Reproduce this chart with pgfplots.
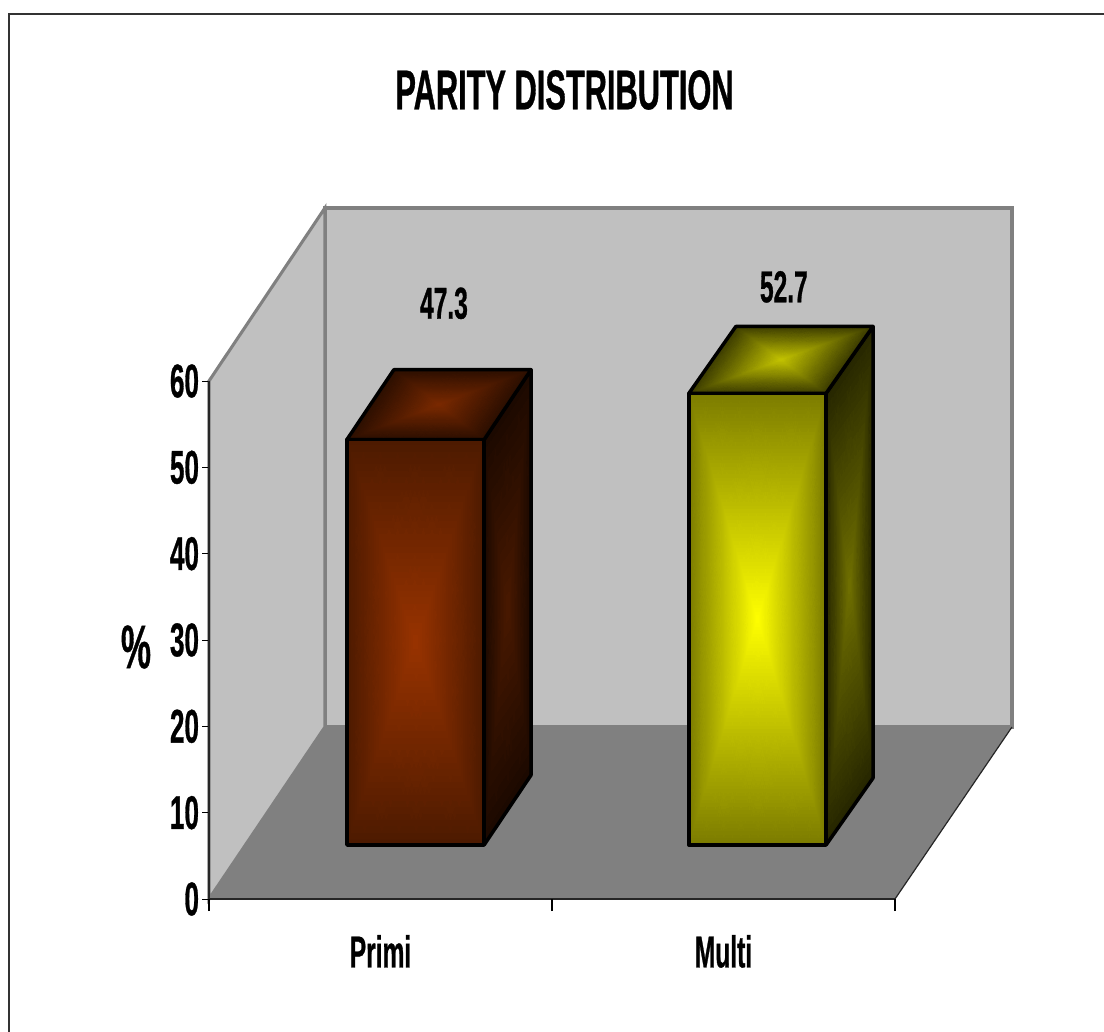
\documentclass[border=0pt]{standalone}
\usepackage{pgfplots}
\pgfplotsset{compat=1.18}
\usepackage{fontspec}
\setmainfont{Liberation Sans}[FakeStretch=0.55,BoldFeatures={FakeBold=0.6}]

% Face colours: E at the edges, C at the centre of each face
\definecolor{wall}{HTML}{C0C0C0}
\definecolor{floorgrey}{HTML}{808080}
\definecolor{primifrontE}{HTML}{4D1A00}
\definecolor{primifrontC}{HTML}{993300}
\definecolor{primisideE}{HTML}{1C0900}
\definecolor{primisideC}{HTML}{4A1900}
\definecolor{primitopE}{HTML}{2B0E00}
\definecolor{primitopC}{HTML}{7A2900}
\definecolor{multifrontE}{HTML}{7C7C00}
\definecolor{multifrontC}{HTML}{FFFF00}
\definecolor{multisideE}{HTML}{262600}
\definecolor{multisideC}{HTML}{707000}
\definecolor{multitopE}{HTML}{3A3A00}
\definecolor{multitopC}{HTML}{C2C200}

% One face of a box: four triangles meeting at the face centre
\def\shadedface(#1,#2)(#3,#4)(#5,#6)(#7,#8)#9;{%
  \pgfmathsetmacro\cx{(#1+#3+#5+#7)/4}%
  \pgfmathsetmacro\cy{(#2+#4+#6+#8)/4}%
  \addplot[patch,shader=interp,mesh/color input=explicit] coordinates {
    (#1,#2)[color=#9E] (#3,#4)[color=#9E] (\cx,\cy)[color=#9C]
    (#3,#4)[color=#9E] (#5,#6)[color=#9E] (\cx,\cy)[color=#9C]
    (#5,#6)[color=#9E] (#7,#8)[color=#9E] (\cx,\cy)[color=#9C]
    (#7,#8)[color=#9E] (#1,#2)[color=#9E] (\cx,\cy)[color=#9C]
  };
  \addplot[black,line width=2.6pt,line join=round] coordinates {(#1,#2) (#3,#4) (#5,#6) (#7,#8)} -- cycle;
}

% A box standing on the floor: left edge, value, depth rise, colour prefix.
% The boxes stand part way into the depth, so their scale is a little shorter than the front axis.
\newcommand{\databox}[4]{%
  \pgfmathsetmacro\xa{#1}%
  \pgfmathsetmacro\xb{#1+0.40}%
  \pgfmathsetmacro\xc{\xa+0.137}%
  \pgfmathsetmacro\xd{\xb+0.137}%
  \pgfmathsetmacro\ya{6.255}%
  \pgfmathsetmacro\yb{6.255+0.9927*#2}%
  \pgfmathsetmacro\yc{\ya+#3}%
  \pgfmathsetmacro\yd{\yb+#3}%
  \shadedface(\xb,\ya)(\xd,\yc)(\xd,\yd)(\xb,\yb)#4side;
  \shadedface(\xa,\yb)(\xb,\yb)(\xd,\yd)(\xc,\yd)#4top;
  \shadedface(\xa,\ya)(\xb,\ya)(\xb,\yb)(\xa,\yb)#4front;
}

\begin{document}
\begin{tikzpicture}[x=0.75pt,y=0.75pt]
\path[use as bounding box] (-209,-133) rectangle (895,899);
\fill[white] (-209,-133) rectangle (895,899);
% Chart area border
\draw[line width=0.9pt,black!80] (-200,-133) -- (-200,885) -- (895,885);
\begin{axis}[
  at={(0,0)},anchor=south west,
  scale only axis,width=514.5pt,height=388.5pt,
  xmin=0,xmax=2,ymin=0,ymax=60,
  clip=false,axis on top=true,
  axis x line=bottom,axis y line=left,
  axis line style={-,black!85,line width=0.9pt},
  tick align=outside,
  xtick={0.5,1.5},xticklabels={Primi,Multi},
  extra x ticks={0,1,2},extra x tick labels={},
  extra x tick style={major tick length=9pt,x tick style={draw=black,line width=0.8pt}},
  ytick={0,10,20,30,40,50,60},
  major tick length=5pt,
  y tick style={black,line width=0.7pt},
  x tick style={draw=none},
  /pgf/number format/assume math mode=true,
  tick label style={font=\fontsize{35.5}{36}\bfseries},
  xticklabel style={yshift=-18.5pt,font=\fontsize{33.5}{34}\bfseries},
  yticklabel style={xshift=1pt},
]
% Back wall, side wall and floor of the plot box
\addplot[fill=wall,draw=floorgrey,line width=2.6pt] coordinates {(0.338,19.92) (2.341,19.92) (2.341,80.04) (0.338,80.04)} -- cycle;
\addplot[fill=wall,draw=floorgrey,line width=2.3pt] coordinates {(0,0) (0,60) (0.338,80.04) (0.338,19.92)} -- cycle;
\addplot[fill=floorgrey,draw=none] coordinates {(0,0) (2,0) (2.341,19.92) (0.338,19.92)} -- cycle;
\addplot[black!85,line width=0.9pt] coordinates {(2,0) (2.341,19.92)};
\databox{0.402}{47.3}{8.1}{primi}
\databox{1.399}{52.7}{7.75}{multi}
% Value labels
\addplot[draw=none,mark=none,nodes near coords,point meta=explicit symbolic,
  nodes near coords style={anchor=center,font=\fontsize{33.5}{34}\bfseries}]
  coordinates {(0.685,69.0)[47.3] (1.676,70.9)[52.7]};
\end{axis}
\node[font=\fontsize{46}{46}\bfseries,anchor=center] at (-73,252) {\%};
\node[font=\fontsize{42}{42}\bfseries,anchor=center] at (355.5,809) {PARITY DISTRIBUTION};
\end{tikzpicture}
\end{document}
